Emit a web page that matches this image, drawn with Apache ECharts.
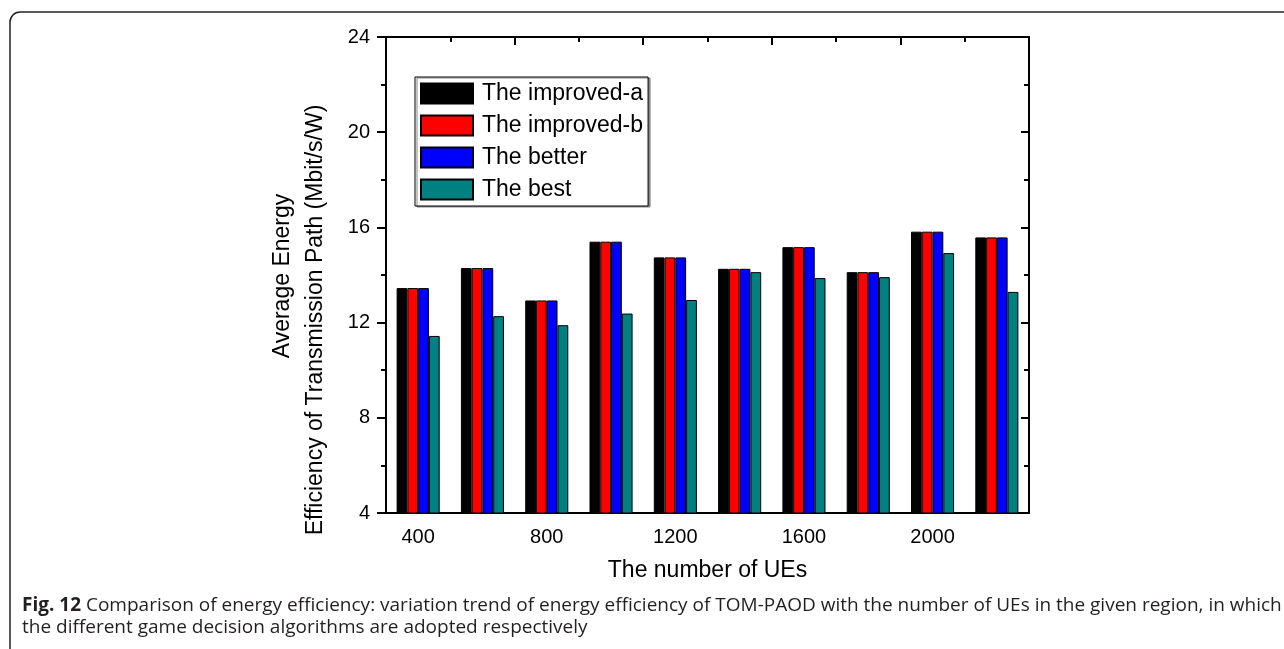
<!DOCTYPE html>
<html>
<head>
<meta charset="utf-8">
<script src="https://cdn.jsdelivr.net/npm/echarts@6/dist/echarts.min.js"></script>
<style>
html,body{margin:0;padding:0;background:#fff;}
#c{width:1284px;height:649px;}
</style>
</head>
<body>
<div id="c"></div>
<script>
const categories = ['400','600','800','1000','1200','1400','1600','1800','2000','2200'];
const seriesNames = ['The improved-a','The improved-b','The better','The best'];
const improvedA = [13.45, 14.29, 12.93, 15.40, 14.74, 14.26, 15.17, 14.12, 15.82, 15.58];
const improvedB = [13.45, 14.29, 12.93, 15.40, 14.74, 14.26, 15.17, 14.12, 15.82, 15.58];
const better    = [13.45, 14.29, 12.93, 15.40, 14.74, 14.26, 15.17, 14.12, 15.82, 15.58];
const best      = [11.44, 12.27, 11.89, 12.38, 12.95, 14.12, 13.87, 13.91, 14.92, 13.29];
const colors = ['#000000','#ff0000','#0000ff','#008080'];
const yMin = 4, yMax = 24, yInterval = 4;
const yTitle1 = 'Average Energy';
const yTitle2 = 'Efficiency of Transmission Path (Mbit/s/W)';
const xTitle = 'The number of UEs';
const captionLine1 = 'Comparison of energy efficiency: variation trend of energy efficiency of TOM-PAOD with the number of UEs in the given region, in which';
const captionLine2 = 'the different game decision algorithms are adopted respectively';

const FONT = '"Liberation Sans", Arial, sans-serif';
const chart = echarts.init(document.getElementById('c'), null, {renderer:'canvas'});
const dataSets = [improvedA, improvedB, better, best];

const series = dataSets.map((d, i) => ({
  name: seriesNames[i],
  type: 'bar',
  data: d,
  xAxisIndex: 0,
  yAxisIndex: 0,
  barGap: '0%',
  barCategoryGap: '33%',
  itemStyle: {color: colors[i], borderColor: '#000', borderWidth: 1},
  emphasis: {disabled: true},
  animation: false
}));

const option = {
  animation: false,
  grid: {left: 386, right: 255, top: 37, bottom: 136, containLabel: false},
  legend: {
    orient: 'vertical',
    left: 415, top: 77,
    padding: 5,
    itemWidth: 52, itemHeight: 20, itemGap: 9,
    icon: 'rect',
    borderColor: '#000', borderWidth: 1,
    backgroundColor: '#fff',
    shadowColor: '#888', shadowOffsetX: 2, shadowOffsetY: 1, shadowBlur: 0,
    textStyle: {fontFamily: FONT, fontSize: 23, color: '#000', lineHeight: 20, padding: [0,0,0,4]},
    data: seriesNames,
    selectedMode: false
  },
  xAxis: [
    {
      type: 'category', data: categories, position: 'bottom',
      axisLine: {lineStyle: {color: '#000', width: 2}},
      axisTick: {alignWithLabel: true, interval: 0, length: 9, lineStyle: {color: '#000', width: 2}},
      axisLabel: {interval: 1, fontFamily: FONT, fontSize: 20, color: '#000', margin: 14},
      name: xTitle, nameLocation: 'middle', nameGap: 46,
      nameTextStyle: {fontFamily: FONT, fontSize: 23, color: '#000'}
    },
    {
      type: 'value', min: 0, max: 10, interval: 2, position: 'top',
      axisLine: {show: true, lineStyle: {color: '#000', width: 2}},
      axisTick: {show: true, inside: true, length: 8, lineStyle: {color: '#000', width: 2}},
      minorTick: {show: true, splitNumber: 2, length: 5, lineStyle: {color: '#000', width: 2}},
      axisLabel: {show: false}, splitLine: {show: false}
    }
  ],
  yAxis: [
    {
      type: 'value', min: yMin, max: yMax, interval: yInterval, position: 'left',
      axisLine: {show: true, lineStyle: {color: '#000', width: 2}},
      axisTick: {show: true, length: 9, lineStyle: {color: '#000', width: 2}},
      minorTick: {show: true, splitNumber: 2, length: 5, lineStyle: {color: '#000', width: 2}},
      axisLabel: {fontFamily: FONT, fontSize: 20, color: '#000', margin: 16},
      splitLine: {show: false}
    },
    {
      type: 'value', min: yMin, max: yMax, interval: yInterval, position: 'right',
      axisLine: {show: true, lineStyle: {color: '#000', width: 2}},
      axisTick: {show: true, inside: true, length: 8, lineStyle: {color: '#000', width: 2}},
      minorTick: {show: true, splitNumber: 2, length: 5, lineStyle: {color: '#000', width: 2}},
      axisLabel: {show: false}, splitLine: {show: false}
    }
  ],
  graphic: [
    {
      type: 'rect', silent: true,
      shape: {x: 10, y: 12, width: 1320, height: 660, r: 10},
      style: {fill: 'none', stroke: '#222', lineWidth: 1.5}
    },
    {
      type: 'text', silent: true, x: 283, y: 276, rotation: Math.PI / 2,
      style: {text: yTitle1, x: 0, y: 0, align: 'center', verticalAlign: 'middle',
              font: '23px "Liberation Sans", Arial, sans-serif', fill: '#000'}
    },
    {
      type: 'text', silent: true, x: 316, y: 320, rotation: Math.PI / 2,
      style: {text: yTitle2, x: 0, y: 0, align: 'center', verticalAlign: 'middle',
              font: '23px "Liberation Sans", Arial, sans-serif', fill: '#000'}
    },
    {
      type: 'text', left: 22, top: 596, silent: true,
      style: {
        text: '{b|Fig. 12} ' + captionLine1,
        font: '19px "Open Sans", sans-serif', fill: '#231f20',
        rich: {b: {fontWeight: 'bold', fontFamily: '"Open Sans", sans-serif', fontSize: 19, fill: '#231f20'}}
      }
    },
    {
      type: 'text', left: 22, top: 618, silent: true,
      style: {text: captionLine2, font: '19px "Open Sans", sans-serif', fill: '#231f20'}
    }
  ],
  series: series
};
chart.setOption(option);
</script>
</body>
</html>
